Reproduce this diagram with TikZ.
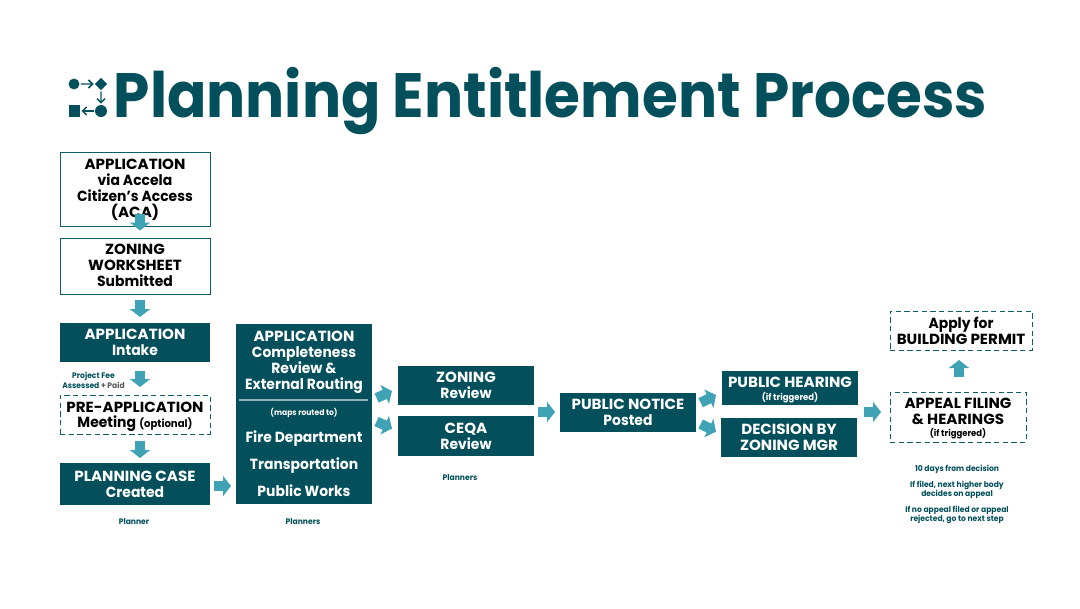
\documentclass[tikz,border=0pt]{standalone}
\usepackage{fontspec}
\setmainfont[FakeStretch=1.03]{Poppins}
\newfontfamily\lc[FakeStretch=0.95]{Poppins}
\newfontfamily\titlefont[FakeStretch=0.927]{Poppins}
\usetikzlibrary{arrows.meta}
\definecolor{teal}{HTML}{03505C}
\definecolor{edge}{HTML}{0F5C6B}
\definecolor{flow}{HTML}{3FA3B5}
\newcommand{\topstrut}[1]{\rule{0pt}{#1pt}}
\newcommand{\botstrut}[1]{\rule[-#1pt]{0pt}{0pt}}
\newcommand{\smalltext}[1]{{\lc\fontsize{6.7}{8}\selectfont #1}}
\tikzset{
  px/.style 2 args={minimum width=#1*0.75pt,minimum height=#2*0.75pt},
  basebox/.style={rectangle,inner sep=0pt,align=center,font=\bfseries\fontsize{11}{12}\selectfont},
  darkbox/.style={basebox,fill=teal,text=white},
  lightbox/.style={basebox,draw=edge,line width=0.75pt,fill=white,text=black},
  dashbox/.style={basebox,draw=edge,line width=0.75pt,dash pattern=on 4pt off 2.5pt,fill=white,text=black},
  note/.style={align=center,inner sep=0pt,text=teal,font=\lc\bfseries\fontsize{6}{7.5}\selectfont},
  inbox/.style={align=center,inner sep=0pt,text=white,font=\lc\bfseries\fontsize{11}{12}\selectfont},
  flowarrow/.style={draw=flow,line width=7.5pt,-{Triangle[length=6pt,width=15pt]}},
  iconline/.style={draw=teal,line width=1.1pt,shorten >=0.8pt,shorten <=0.8pt,-{Straight Barb[length=3pt,width=6pt]}},
}
\begin{document}
\begin{tikzpicture}[x=0.75pt,y=-0.75pt]
\useasboundingbox (0,0) rectangle (1080,608);
\fill[white] (0,0) rectangle (1080,608);
% title
\node[inner sep=0pt,text=teal,anchor=base west,font=\titlefont\bfseries\fontsize{47}{47}\selectfont] (title) at (113.5,117) {Planning Entitlement Process};
% icon
\node[circle,fill=teal,inner sep=0pt,minimum size=8.2pt] (ic1) at (74,84) {};
\node[rectangle,rotate=45,fill=teal,inner sep=0pt,minimum size=6.4pt] (ic2) at (101,84) {};
\node[circle,fill=teal,inner sep=0pt,minimum size=9pt] (ic3) at (101,111) {};
\node[rectangle,fill=teal,inner sep=0pt,minimum size=8.6pt] (ic4) at (74.5,111) {};
\draw[iconline] (ic1) -- (ic2);
\draw[iconline] (ic2) -- (ic3);
\draw[iconline] (ic3) -- (ic4);
% boxes
\node[lightbox,px={150}{74}] (app) at (135,189) {\topstrut{9.2}APPLICATION\\{\lc via Accela}\\{\lc Citizen’s Access}\\(ACA)};
\node[lightbox,px={150}{56}] (zon) at (135,266) {ZONING\\WORKSHEET\\{\lc Submitted}\botstrut{1.5}};
\node[darkbox,px={150}{39}] (intake) at (135,342.5) {APPLICATION\\{\lc Intake}};
\node[dashbox,px={150}{39}] (pre) at (135,414.5) {\topstrut{11.5}PRE-APPLICATION\\[-0.5pt]{\lc Meeting} {\lc\fontsize{8}{12}\selectfont(optional)}};
\node[darkbox,px={150}{42}] (case) at (135,484) {PLANNING CASE\\{\lc Created}};
\node[darkbox,px={136}{180}] (compl) at (304,414) {};
\node[inbox,anchor=north] (compltext) at (304,330.5) {{\fontspec[FakeStretch=1.03]{Poppins}APPLICATION}\\Completeness\\Review \&\\External Routing};
\draw[draw=white!55!teal,line width=0.9pt] (239,400) -- (368,400);
\node[inbox,font=\lc\bfseries\fontsize{6}{7}\selectfont] (maps) at (304,413) {(maps routed to)};
\node[inbox,anchor=base] (fire) at (304,442) {Fire Department};
\node[inbox,anchor=base] (trans) at (304,469) {Transportation};
\node[inbox,anchor=base] (works) at (304,496) {Public Works};
\node[darkbox,px={136}{39}] (zrev) at (466,385.5) {ZONING\\{\lc Review}};
\node[darkbox,px={136}{40}] (crev) at (466,436) {CEQA\\{\lc Review}};
\node[darkbox,px={136}{39}] (notice) at (628,412.5) {PUBLIC NOTICE\\{\lc Posted}};
\node[darkbox,px={136}{34}] (hear) at (790,388) {\topstrut{10.7}PUBLIC HEARING\\[-2.5pt]\smalltext{(if triggered)}};
\node[darkbox,px={136}{39}] (dec) at (789,437.5) {DECISION BY\\ZONING MGR};
\node[dashbox,px={136}{50}] (appeal) at (958,417) {\topstrut{10}APPEAL FILING\\\& HEARINGS\\[-3.2pt]\smalltext{(if triggered)}};
\node[dashbox,px={142}{39}] (permit) at (961,330.5) {{\lc Apply for}\\BUILDING PERMIT};
% notes
\node[note] (fee) at (93.5,380) {Project Fee\\Assessed {\color{black!65}+ Paid}};
\node[note] (n1) at (134,522) {Planner};
\node[note] (n2) at (303,522) {Planners};
\node[note] (n3) at (460,478) {Planners};
\node[note] (n4) at (957,469) {10 days from decision};
\node[note,font=\lc\bfseries\fontsize{6}{6.8}\selectfont] (n5) at (957,490) {If filed, next higher body\\decides on appeal};
\node[note,font=\lc\bfseries\fontsize{6}{6.8}\selectfont] (n6) at (957,515) {If no appeal filed or appeal\\rejected, go to next step};
% arrows
\coordinate (a1s) at (140,214); \coordinate (a1e) at (140,230.5);
\coordinate (a2s) at (140,300); \coordinate (a2e) at (140,317);
\coordinate (a3s) at (140,371); \coordinate (a3e) at (140,387);
\coordinate (a4s) at (140,441); \coordinate (a4e) at (140,458);
\coordinate (a5s) at (214,486); \coordinate (a5e) at (231,486);
\coordinate (a6s) at (376.6,398); \coordinate (a6e) at (392,391);
\coordinate (a7s) at (376.5,421.5); \coordinate (a7e) at (392,428.5);
\coordinate (a8s) at (538,412); \coordinate (a8e) at (555,412);
\coordinate (a9s) at (700.7,402.7); \coordinate (a9e) at (716,395);
\coordinate (a10s) at (700.7,424); \coordinate (a10e) at (716,431.7);
\coordinate (a11s) at (864,412); \coordinate (a11e) at (881,412);
\coordinate (a12s) at (959,377); \coordinate (a12e) at (959,360);
\foreach \i in {1,...,12} \draw[flowarrow] (a\i s) -- (a\i e);
\end{tikzpicture}
\end{document}
